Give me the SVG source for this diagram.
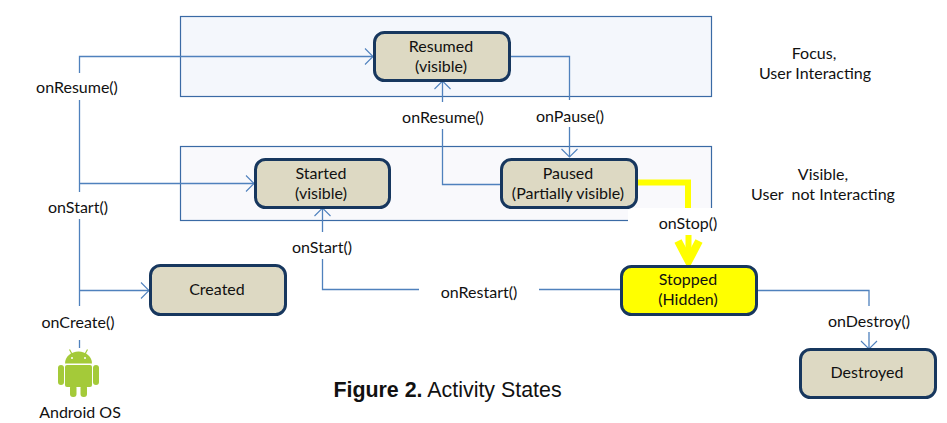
<svg xmlns="http://www.w3.org/2000/svg" width="947" height="423" viewBox="0 0 947 423">
<style>
text{font-family:Lato,"Liberation Sans",sans-serif;font-size:16px;fill:#111;text-anchor:middle}
.band{stroke:#3a6aa5;stroke-width:1.2}
.node{fill:#ddd9c3;stroke:#17375e;stroke-width:3}
.c{fill:none;stroke:#4f81bd;stroke-width:1.3}
.a{fill:none;stroke:#4f81bd;stroke-width:1.1}
.y{fill:none;stroke:#ffff00;stroke-width:6}
.mask{fill:#fff}
</style>
<rect width="947" height="423" fill="#fff"/>
<g id="bands">
<rect class="band" x="180.500" y="16.500" width="531" height="80" fill="#f4f7fc"/>
<rect class="band" x="180.500" y="146.500" width="531" height="74" fill="#f9f9fc"/>
<rect class="mask" x="628" y="208" width="90" height="16"/>
</g>
<g id="connectors">
<path class="c" d="M79.500 73V56.500H373M79.500 100V192M79.500 219V306M79.500 183.500H254M79.500 290.500H149M79.500 340V348"/>
<path class="a" d="M365 48.500L373 56.500L365 64.500M246 175.500L254 183.500L246 191.500M141 282.500L149 290.500L141 298.500"/>
<path class="c" d="M500 184.500H442.500V129M442.500 102V81"/>
<path class="a" d="M434.500 89L442.500 81L450.500 89"/>
<path class="c" d="M510 56.500H569.500V100M569.500 127V157"/>
<path class="a" d="M561.500 149L569.500 157L577.500 149"/>
<path class="c" d="M322.500 208V232M322.500 259V289.500H419M539 289.500H621"/>
<path class="a" d="M314.500 216L322.500 208L330.500 216"/>
<path class="c" d="M757 290.500H869V306M869 332V349"/>
<path class="a" d="M861 341L869 349L877 341"/>
<path class="y" d="M636 182.500H688V208"/>
<path class="y" d="M688.500 235V262"/>
<path d="M678 241L688.500 261L699 241" fill="none" stroke="#ffff00" stroke-width="8"/>
</g>
<g id="resumed"><rect class="node" x="374.500" y="32.500" width="135" height="48" rx="10"/><text x="441" y="52">Resumed</text><text x="441" y="72">(visible)</text></g>
<g id="started"><rect class="node" x="255.500" y="159.500" width="134" height="48" rx="10"/><text x="321" y="179">Started</text><text x="321" y="199">(visible)</text></g>
<g id="paused"><rect class="node" x="501.500" y="159.500" width="135" height="48" rx="10"/><text x="568" y="179">Paused</text><text x="568" y="199">(Partially visible)</text></g>
<g id="created"><rect class="node" x="150.500" y="265.500" width="135" height="49" rx="10"/><text x="217" y="295">Created</text></g>
<g id="stopped"><rect class="node" style="fill:#ffff00" x="621.500" y="266.500" width="135" height="48" rx="10"/><text x="688" y="285">Stopped</text><text x="688" y="305">(Hidden)</text></g>
<g id="destroyed"><rect class="node" x="800.500" y="349.500" width="135" height="48" rx="10"/><text x="867" y="378">Destroyed</text></g>
<g id="android-os">
<g fill="#a4ca39">
<path d="M65 363.500a13.500 12 0 0 1 27 0z"/>
<rect x="65" y="365" width="27" height="22" rx="2"/>
<rect x="58" y="365" width="6" height="20" rx="3"/>
<rect x="93" y="365" width="6" height="20" rx="3"/>
<rect x="70" y="385" width="6.500" height="12" rx="3"/>
<rect x="80.500" y="385" width="6.500" height="12" rx="3"/>
</g>
<path d="M69.500 349.500L72 354M87.500 349.500L85 354" stroke="#a4ca39" stroke-width="1.200"/>
<circle cx="72" cy="358" r="1" fill="#fff"/><circle cx="85" cy="358" r="1" fill="#fff"/>
<text x="80" y="418">Android OS</text>
</g>
<g id="labels">
<text x="77" y="93">onResume()</text>
<text x="78" y="213">onStart()</text>
<text x="78" y="328">onCreate()</text>
<text x="322" y="253">onStart()</text>
<text x="443" y="123">onResume()</text>
<text x="570" y="122">onPause()</text>
<text x="688" y="229">onStop()</text>
<text x="479" y="298">onRestart()</text>
<text x="869" y="327">onDestroy()</text>
<text x="814" y="59">Focus,</text>
<text x="815" y="79">User Interacting</text>
<text x="823" y="180">Visible,</text>
<text x="823" y="200">User&#160; not Interacting</text>
</g>
<text x="447.500" y="397" style="font-family:'Liberation Sans',Arial,sans-serif;font-size:21.400px"><tspan font-weight="bold">Figure 2.</tspan> Activity States</text>
</svg>
